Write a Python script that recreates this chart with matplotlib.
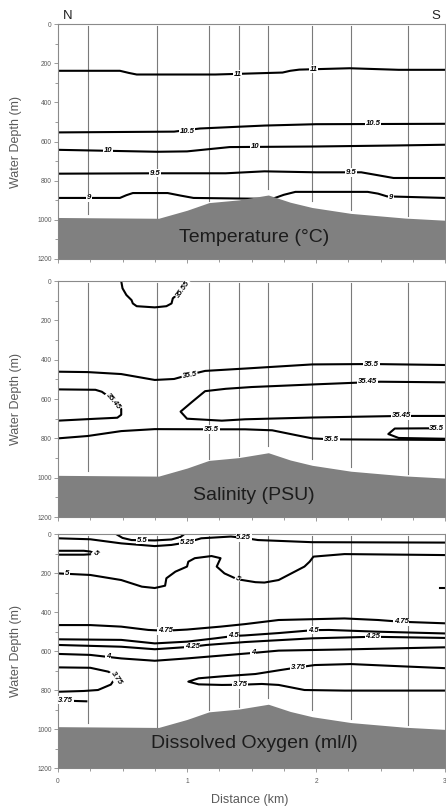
import matplotlib
matplotlib.use("Agg")
import matplotlib.pyplot as plt
from matplotlib.ticker import MultipleLocator

plt.rcParams["font.family"] = ["Liberation Sans", "DejaVu Sans"]

# CTD stations along the section (km) and the depth each cast reached (m)
station_km = [0.23, 0.77, 1.17, 1.40, 1.63, 1.97, 2.27, 2.71]
station_bottom = [968, 990, 903, 888, 840, 905, 948, 980]

# bathymetry
floor_km = [0, 0.78, 1.0, 1.17, 1.40, 1.63, 1.80, 1.97, 2.27, 2.69, 3.0]
floor_depth = [988, 992, 951, 912, 898, 873, 910, 937, 967, 991, 1002]

# temperature isolines (km, depth m)
t_11 = ([0, 0.48, 0.55, 0.61, 1.22, 1.74, 1.80, 1.87, 2.26, 2.64, 3.0],
        [238, 238, 249, 257, 257, 247, 238, 232, 225, 233, 233])
t_10_5 = ([0, 0.9, 1.1, 1.6, 2.0, 3.0], [553, 549, 533, 518, 511, 509])
t_10 = ([0, 0.77, 1.0, 1.33, 2.0, 2.6, 3.0], [642, 652, 650, 628, 625, 620, 616])
t_9_5 = ([0, 0.75, 1.3, 1.6, 2.0, 2.35, 2.48, 2.6, 3.0],
         [764, 762, 762, 752, 757, 757, 772, 786, 786])
t_9 = ([0, 0.48, 0.53, 0.58, 0.85, 0.95, 1.05, 1.66, 1.75, 1.84, 2.4, 2.48, 2.55, 3.0],
       [888, 888, 874, 863, 863, 876, 888, 893, 872, 857, 857, 866, 880, 888])
temp_labels = [("11", 1.39, 255, 0), ("11", 1.98, 229, 0),
               ("10.5", 1.0, 546, 0), ("10.5", 2.44, 509, 0),
               ("10", 0.39, 645, 0), ("10", 1.53, 626, 0),
               ("9.5", 0.75, 762, 0), ("9.5", 2.27, 757, 0),
               ("9", 0.24, 888, 0), ("9", 2.58, 884, 0)]

# salinity isolines
s_35_55 = ([0.49, 0.50, 0.53, 0.57, 0.58, 0.61, 0.75, 0.84, 0.88, 0.89, 0.94, 1.02],
           [0, 37, 71, 97, 114, 128, 134, 128, 114, 88, 60, 0])
s_35_5_top = ([0, 0.23, 0.49, 0.75, 0.9, 1.02, 1.14, 1.45, 1.97, 2.43, 3.0],
              [461, 463, 473, 503, 498, 476, 457, 445, 424, 422, 427])
s_35_45_left = ([0, 0.29, 0.34, 0.42, 0.49, 0.49, 0.46, 0.3, 0],
                [551, 553, 563, 600, 650, 680, 695, 700, 710])
s_35_45_right = ([3.0, 2.5, 1.97, 1.5, 1.3, 1.14, 1.04, 0.95, 1.0, 1.27, 1.45, 1.97, 2.66, 3.0],
                 [515, 512, 526, 539, 548, 560, 614, 664, 700, 710, 703, 694, 686, 686])
s_35_5_low = ([0, 0.23, 0.49, 0.75, 1.19, 1.45, 1.66, 1.84, 1.97, 2.12, 3.0],
              [800, 788, 763, 753, 754, 754, 759, 783, 800, 805, 808])
s_35_5_loop = ([3.0, 2.85, 2.61, 2.56, 2.64, 3.0], [749, 749, 750, 778, 798, 802])
sal_labels = [("35.55", 0.97, 42, 55), ("35.5", 1.02, 478, 10), ("35.5", 2.43, 422, 0),
              ("35.45", 0.43, 610, -50), ("35.45", 2.40, 510, 0), ("35.45", 2.66, 686, 0),
              ("35.5", 1.19, 754, 0), ("35.5", 2.12, 805, 0), ("35.5", 2.935, 749, 0)]

# dissolved oxygen isolines
o_5_5 = ([0.45, 0.5, 0.57, 0.75, 0.88, 0.95, 0.98], [0, 20, 31, 33, 28, 15, 0])
o_5_25 = ([0, 0.25, 0.49, 0.75, 0.88, 1.0, 1.11, 1.34, 1.44, 1.55, 1.97, 3.0],
          [22, 27, 48, 62, 56, 43, 22, 13, 20, 31, 42, 44])
o_5_tongue = ([0, 0.2, 0.25, 0.28, 0.25, 0.2, 0], [86, 86, 90, 97, 104, 106, 106])
o_5 = ([0, 0.25, 0.49, 0.65, 0.75, 0.83, 0.84, 0.91, 1.0, 1.01, 1.06, 1.19, 1.26, 1.23,
        1.29, 1.39, 1.53, 1.60, 1.71, 1.91, 1.95, 1.98, 2.22, 3.0],
       [202, 210, 236, 270, 277, 265, 227, 193, 167, 142, 124, 113, 124, 167,
        202, 232, 247, 249, 236, 167, 142, 116, 103, 108])
o_5_edge = ([2.96, 3.0], [275, 275])
o_4_75 = ([0, 0.25, 0.49, 0.70, 0.83, 1.0, 1.26, 1.45, 1.71, 2.22, 2.48, 2.66, 3.0],
          [467, 467, 475, 492, 496, 490, 475, 462, 441, 433, 441, 450, 458])
o_4_5 = ([0, 0.49, 0.75, 1.0, 1.22, 1.36, 1.45, 1.71, 1.98, 2.10, 2.48, 3.0],
         [540, 543, 561, 552, 535, 523, 520, 508, 493, 492, 501, 510])
o_4_25 = ([0, 0.49, 0.75, 1.04, 1.15, 1.45, 1.97, 2.44, 3.0],
          [569, 578, 591, 578, 569, 554, 535, 527, 533])
o_4 = ([0, 0.25, 0.49, 0.75, 1.0, 1.51, 1.71, 2.22, 3.0],
       [615, 620, 638, 650, 638, 610, 598, 592, 581])
o_3_75_left = ([0, 0.25, 0.39, 0.45, 0.41, 0.31, 0.2, 0],
               [684, 686, 706, 732, 772, 800, 805, 809])
o_3_75_small = ([0.12, 0.22], [856, 858])
o_3_75_right = ([3.0, 2.61, 2.27, 1.99, 1.86, 1.73, 1.53, 1.27, 1.09, 1.01, 1.09, 1.27,
                 1.41, 1.58, 1.71, 1.91, 2.22, 3.0],
                [688, 677, 667, 672, 684, 697, 718, 730, 740, 757, 771, 774,
                 773, 769, 774, 800, 803, 803])
oxy_labels = [("5.5", 0.65, 31, 0), ("5.25", 1.0, 43, 0), ("5.25", 1.44, 20, 0),
              ("5", 0.29, 96, -40), ("5", 0.07, 202, 0), ("5", 1.39, 232, -30),
              ("4.75", 0.83, 496, 0), ("4.75", 2.66, 450, 0),
              ("4.5", 1.36, 523, 0), ("4.5", 1.98, 493, 0),
              ("4.25", 1.04, 578, 0), ("4.25", 2.44, 527, 0),
              ("4", 0.39, 628, 0), ("4", 1.51, 610, 0),
              ("3.75", 0.45, 740, -55), ("3.75", 0.06, 852, 0),
              ("3.75", 1.86, 684, 0), ("3.75", 1.41, 773, 0)]

panels = [
    ("Temperature (°C)", [t_11, t_10_5, t_10, t_9_5, t_9], temp_labels, 1088),
    ("Salinity (PSU)", [s_35_55, s_35_5_top, s_35_45_left, s_35_45_right,
                        s_35_5_low, s_35_5_loop], sal_labels, 1088),
    ("Dissolved Oxygen (ml/l)", [o_5_5, o_5_25, o_5_tongue, o_5, o_5_edge, o_4_75,
                                 o_4_5, o_4_25, o_4, o_3_75_left, o_3_75_small,
                                 o_3_75_right], oxy_labels, 1075),
]

fig = plt.figure(figsize=(4.46, 8.08), dpi=100)
boxes = [(0.6795, 0.970), (0.3601, 0.6522), (0.0495, 0.3391)]
grey = "#8a8a8a"
txt_grey = "#5a5a5a"

for i, (title, lines, labels, title_d) in enumerate(panels):
    bot, top = boxes[i]
    ax = fig.add_axes([0.130, bot, 0.868, top - bot])

    for xk, bd in zip(station_km, station_bottom):
        ax.plot([xk, xk], [10, bd], color="#7a7a7a", lw=0.8, zorder=1)

    for xs, ds in lines:
        ax.plot(xs, ds, color="black", lw=1.5, zorder=2, solid_joinstyle="round")

    for s, xk, d, rot in labels:
        ax.text(xk, d, s, ha="center", va="center", fontsize=5.6, style="italic",
                weight="bold", rotation=rot, rotation_mode="anchor", zorder=3,
                clip_on=True,
                bbox=dict(fc="white", ec="none", pad=0.5))

    ax.fill_between(floor_km, floor_depth, 1200, color="#808080", lw=0, zorder=5)
    ax.text(1.52, title_d, title, ha="center", va="center", fontsize=14,
            color="#1c1c1c", zorder=6)

    ax.set_xlim(0, 3)
    ax.set_ylim(1200, 0)
    ax.xaxis.set_major_locator(MultipleLocator(1))
    ax.xaxis.set_minor_locator(MultipleLocator(0.25))
    ax.yaxis.set_major_locator(MultipleLocator(200))
    ax.yaxis.set_minor_locator(MultipleLocator(100))
    ax.tick_params(which="both", direction="out", color=grey, width=0.6,
                   labelsize=4.8, labelcolor=txt_grey, pad=1.5)
    ax.tick_params(which="major", length=3)
    ax.tick_params(which="minor", length=2)
    for sp in ax.spines.values():
        sp.set_color(grey)
        sp.set_linewidth(0.8)

    ax.set_ylabel("Water Depth (m)", fontsize=9, color=txt_grey)
    ax.yaxis.set_label_coords(-0.092, 0.5)
    if i < 2:
        ax.tick_params(labelbottom=False)
    else:
        ax.tick_params(axis="x", pad=4)
        ax.set_xlabel("Distance (km)", fontsize=9, color=txt_grey)
        ax.xaxis.set_label_coords(0.496, -0.112)

fig.text(68 / 446, 1 - 16 / 808, "N", ha="center", va="center", fontsize=9.5,
         color="#222222")
fig.text(436 / 446, 1 - 16 / 808, "S", ha="center", va="center", fontsize=9.5,
         color="#222222")

fig.savefig("out.png", dpi=100)
